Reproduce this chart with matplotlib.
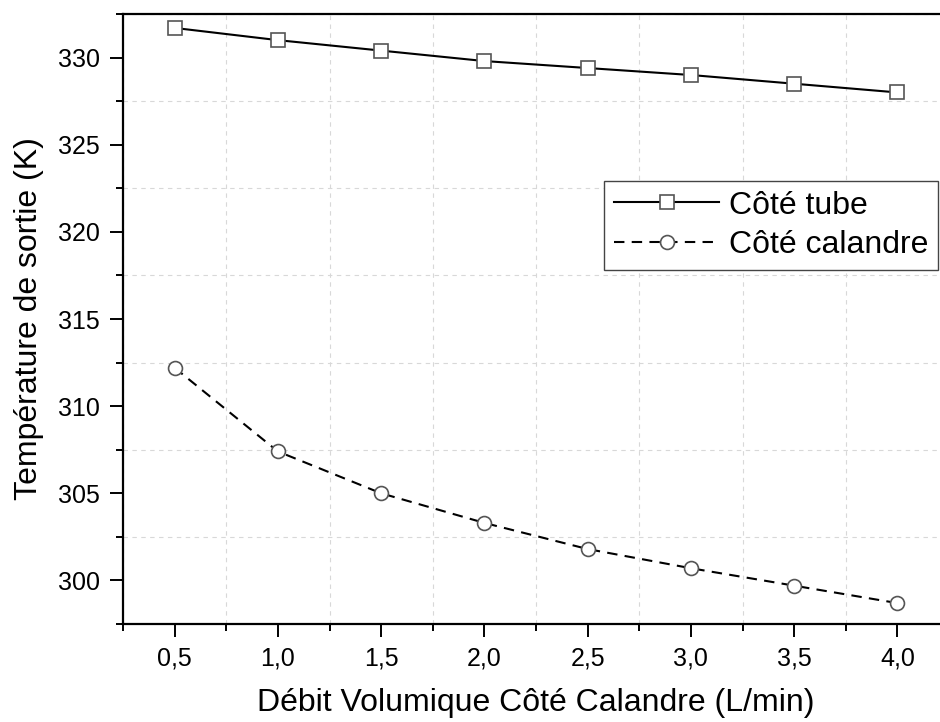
import matplotlib
matplotlib.use('Agg')
import matplotlib.pyplot as plt
from matplotlib.ticker import MultipleLocator, FuncFormatter

# Data
debit = [0.5, 1.0, 1.5, 2.0, 2.5, 3.0, 3.5, 4.0]
t_tube = [331.7, 331.0, 330.4, 329.8, 329.4, 329.0, 328.5, 328.0]
t_calandre = [312.2, 307.4, 305.0, 303.3, 301.8, 300.7, 299.7, 298.7]

plt.rcParams['font.family'] = ['Liberation Sans', 'DejaVu Sans']

fig = plt.figure(figsize=(9.4, 7.22), dpi=100)
ax = fig.add_axes([123 / 940, 98 / 722, 826 / 940, 610 / 722])

ax.plot(debit, t_tube, color='black', lw=1.5, marker='s', ms=9.5,
        mfc='white', mec='#555555', mew=1.2, label='Côté tube')
ax.plot(debit, t_calandre, color='black', lw=1.5, ls=(0, (5, 3.5)), marker='o', ms=10,
        mfc='white', mec='#555555', mew=1.2, label='Côté calandre')

ax.set_xlim(0.25, 4.25)
ax.set_ylim(297.5, 332.5)
ax.xaxis.set_major_locator(MultipleLocator(0.5))
ax.xaxis.set_minor_locator(MultipleLocator(0.25))
ax.yaxis.set_major_locator(MultipleLocator(5))
ax.yaxis.set_minor_locator(MultipleLocator(2.5))
ax.xaxis.set_major_formatter(FuncFormatter(lambda v, p: f'{v:.1f}'.replace('.', ',')))

ax.grid(which='minor', color='#d8d8d8', ls=(0, (4, 4)), lw=0.8)
ax.grid(which='major', visible=False)

for s in ax.spines.values():
    s.set_linewidth(1.6)
ax.spines['right'].set_visible(False)

ax.tick_params(which='major', direction='out', length=9.5, width=1.4, labelsize=18, pad=7)
ax.tick_params(which='minor', direction='out', length=5, width=1.4)
ax.tick_params(top=False, right=False)

ax.set_xlabel('Débit Volumique Côté Calandre (L/min)', fontsize=23, labelpad=12)
ax.set_ylabel('Température de sortie (K)', fontsize=23, labelpad=10)

leg = ax.legend(loc='upper right', bbox_to_anchor=(938 / 940, 1 - 181 / 722),
                bbox_transform=fig.transFigure, fontsize=23, fancybox=False,
                framealpha=1, edgecolor='#444444', handlelength=3.3,
                borderpad=0.3, labelspacing=0.3, handletextpad=0.3, borderaxespad=0)
leg.get_frame().set_linewidth(1.0)

fig.savefig('out.png', dpi=100)
